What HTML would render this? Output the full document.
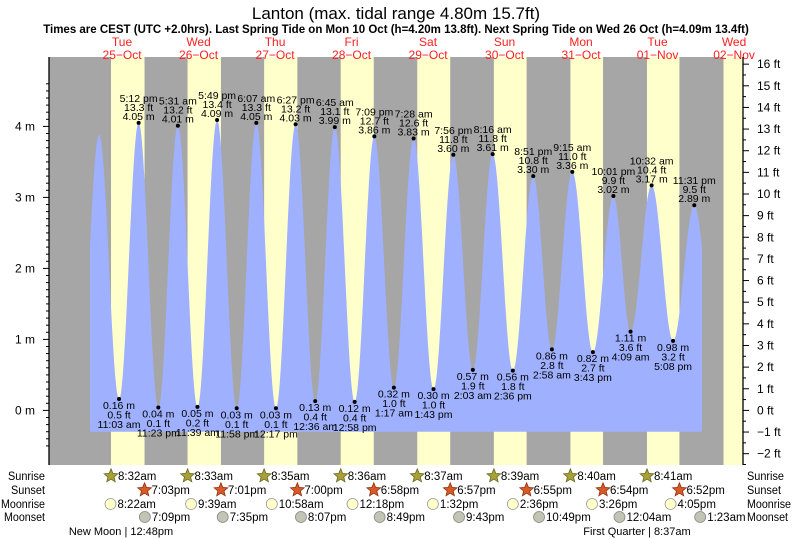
<!DOCTYPE html>
<html><head><meta charset="utf-8"><style>
html,body{margin:0;padding:0;background:#fff;}
svg{display:block;font-family:"Liberation Sans",sans-serif;}
</style></head><body>
<svg id="chart" width="793" height="539" viewBox="0 0 793 539">
<text x="396" y="19" text-anchor="middle" font-size="17">Lanton (max. tidal range 4.80m 15.7ft)</text>
<text x="396" y="33" text-anchor="middle" font-size="11.5" font-weight="bold">Times are CEST (UTC +2.0hrs). Last Spring Tide on Mon 10 Oct (h=4.20m 13.8ft). Next Spring Tide on Wed 26 Oct (h=4.09m 13.4ft)</text>
</svg>
<script>
// ---- data ----
const dayNames = ["Tue","Wed","Thu","Fri","Sat","Sun","Mon","Tue","Wed"];
const dayDates = ["25\u2212Oct","26\u2212Oct","27\u2212Oct","28\u2212Oct","29\u2212Oct","30\u2212Oct","31\u2212Oct","01\u2212Nov","02\u2212Nov"];
const sunriseLabels = ["8:32am","8:33am","8:35am","8:36am","8:37am","8:39am","8:40am","8:41am"];
const sunriseHours = [8.53,8.55,8.58,8.60,8.62,8.65,8.67,8.68,8.70];
const sunsetLabels = ["7:03pm","7:01pm","7:00pm","6:58pm","6:57pm","6:55pm","6:54pm","6:52pm"];
const sunsetHours = [19.05,19.02,19.0,18.97,18.95,18.92,18.90,18.87];
const moonriseLabels = ["8:22am","9:39am","10:58am","12:18pm","1:32pm","2:36pm","3:26pm","4:05pm"];
const moonriseHours = [8.37,9.65,10.97,12.30,13.53,14.60,15.43,16.08];
const moonsetLabels = ["7:09pm","7:35pm","8:07pm","8:49pm","9:43pm","10:49pm","12:04am","1:23am"];
// moonset times: hours after midnight of the day the event belongs to (entries may exceed 24)
const moonsetHours = [19.15,19.58,20.12,20.82,21.72,22.82,24.07,25.38];
// tide extremes: hours since 25-Oct 00:00
const tideHours = [-1.5,4.8,11.05,17.2,23.38,29.52,35.65,41.82,47.97,54.12,60.28,66.45,72.6,78.75,84.97,91.15,97.28,103.47,109.72,115.93,122.05,128.27,134.6,141.0,146.85,153.25,159.72,166.15,171.53,178.15,184.87,191.52,197.5];
const tideHeights = [0.25,3.88,0.16,4.05,0.04,4.01,0.05,4.09,0.03,4.05,0.03,4.03,0.13,3.99,0.12,3.86,0.32,3.83,0.30,3.60,0.57,3.61,0.56,3.30,0.86,3.36,0.82,3.02,1.11,3.17,0.98,2.89,1.2];
const tideLabels = ["","","11:03 am","5:12 pm","11:23 pm","5:31 am","11:39 am","5:49 pm","11:58 pm","6:07 am","12:17 pm","6:27 pm","12:36 am","6:45 am","12:58 pm","7:09 pm","1:17 am","7:28 am","1:43 pm","7:56 pm","2:03 am","8:16 am","2:36 pm","8:51 pm","2:58 am","9:15 am","3:43 pm","10:01 pm","4:09 am","10:32 am","5:08 pm","11:31 pm",""];
const meterTicks = [0,1,2,3,4];
const feetTicks = [-2,-1,0,1,2,3,4,5,6,7,8,9,10,11,12,13,14,15,16];

// ---- scales ----
const X0 = 83.8, PXH = 76.5/24;
const xs = h => X0 + h*PXH;
const ym = m => 410.4 - 71*m;
const PL = 49, PR = 743, PT = 57, PB = 465;
const svg = document.getElementById('chart');
const NS = "http://www.w3.org/2000/svg";
function mk(tag, attrs, parent){ const e=document.createElementNS(NS,tag); for(const k in attrs) e.setAttribute(k,attrs[k]); (parent||svg).appendChild(e); return e; }

let bg = mk('rect',{x:PL,y:PT,width:PR-PL,height:PB-PT,fill:'#a6a6a6'});


for(let d=0; d<sunriseHours.length; d++){
  const x1 = xs(d*24+sunriseHours[d]);
  const x2 = d<sunsetHours.length ? Math.min(PR, xs(d*24+sunsetHours[d])) : PR;
  const r = mk('rect',{x:x1,y:PT,width:x2-x1,height:PB-PT,fill:'#ffffcc'});
  
  
}
for(let d=0; d<dayNames.length; d++){
  const cx = xs(d*24+12);
  const t1 = mk('text',{x:cx,y:46,'text-anchor':'middle','font-size':12,fill:'#ff2020'}); t1.textContent=dayNames[d];
  
  
  const t2 = mk('text',{x:cx,y:59,'text-anchor':'middle','font-size':12,fill:'#ff2020'}); t2.textContent=dayDates[d];
  
  
}
const hStart = (90-X0)/PXH, hEnd = (702-X0)/PXH;
function tideAt(h){
  for(let i=0;i<tideHours.length-1;i++){
    if(h>=tideHours[i] && h<=tideHours[i+1]){
      const f=(h-tideHours[i])/(tideHours[i+1]-tideHours[i]);
      return tideHeights[i]+(tideHeights[i+1]-tideHeights[i])*(1-Math.cos(Math.PI*f))/2;
    }
  }
  return tideHeights[tideHeights.length-1];
}
let dpath = `M${xs(hStart)},${ym(-0.3)}`;
for(let h=hStart; h<=hEnd; h+=0.1){ dpath += ` L${xs(h).toFixed(2)},${ym(tideAt(h)).toFixed(2)}`; }
dpath += ` L${xs(hEnd)},${ym(tideAt(hEnd))} L${xs(hEnd)},${ym(-0.3)} Z`;
const tp = mk('path',{d:dpath,fill:'#9fb0ff'});


for(let i=0;i<tideHours.length;i++){
  if(!tideLabels[i]) continue;
  const x=xs(tideHours[i]), y=ym(tideHeights[i]);
  const high = i>0 && tideHeights[i]>tideHeights[i-1];
  const dot = mk('circle',{cx:x,cy:y,r:2,fill:'#000'});
  
  
  const mTxt = tideHeights[i].toFixed(2)+" m", fTxt=(tideHeights[i]*3.28084).toFixed(1)+" ft";
  const lines = high ? [[tideLabels[i],-21],[fTxt,-12],[mTxt,-3]] : [[mTxt,10],[fTxt,19.5],[tideLabels[i],29]];
  const g = mk('text',{'font-size':10.5,'text-anchor':'middle',fill:'#000'});
  
  
  lines.forEach(l=>{ const ts=mk('tspan',{x:x,y:y+l[1]},g); ts.textContent=l[0]; });
}
mk('line',{x1:PL,y1:PT,x2:PL,y2:PB,stroke:'#000','stroke-width':1.3});
for(let m=-0.5; m<=4.6; m+=0.1){
  const y=ym(m); if(y<PT||y>PB) continue;
  const major = Math.abs(m-Math.round(m))<0.01;
  mk('line',{x1:PL-(major?6:3),y1:y,x2:PL,y2:y,stroke:'#000','stroke-width':1});
}
meterTicks.forEach(m=>{ const t=mk('text',{x:35,y:ym(m)+4,'text-anchor':'end','font-size':12}); t.textContent=m+" m";
  
   });
mk('line',{x1:PR,y1:PT,x2:PR,y2:PB,stroke:'#000','stroke-width':1.3});
const yf = f => ym(f*0.3048);
for(let f=-2.5; f<=16.5; f+=0.5){
  const y=yf(f); if(y<PT||y>PB) continue;
  const major = Math.abs(f-Math.round(f))<0.01;
  mk('line',{x1:PR,y1:y,x2:PR+(major?6:3),y2:y,stroke:'#000','stroke-width':1});
}
feetTicks.forEach(f=>{ const t=mk('text',{x:757,y:yf(f)+4,'font-size':12}); t.textContent=(f<0?"\u2212"+(-f):f)+" ft";
  
   });
function star(cx,cy,fill,stroke){
  let pts=[]; for(let k=0;k<10;k++){ const r=k%2?3.2:7.2, a=-Math.PI/2+k*Math.PI/5; pts.push((cx+r*Math.cos(a)).toFixed(1)+","+(cy+r*Math.sin(a)).toFixed(1)); }
  return mk('polygon',{points:pts.join(' '),fill:fill,stroke:stroke,'stroke-width':0.8});
}
function rowLabel(txt,y,w){
  const a=mk('text',{x:45,y:y+4,'text-anchor':'end','font-size':11.5,textLength:w,lengthAdjust:'spacingAndGlyphs'}); a.textContent=txt;
  
  
  const b=mk('text',{x:747,y:y+4,'font-size':11.5,textLength:w,lengthAdjust:'spacingAndGlyphs'}); b.textContent=txt;
  
  
}
rowLabel("Sunrise",476,37); rowLabel("Sunset",490,34); rowLabel("Moonrise",504,44); rowLabel("Moonset",517,41);
function eventRow(hours,labels,y,kind){
  labels.forEach((lab,d)=>{
    const x = xs(d*24+hours[d]);
    let ic;
    if(kind==='sunrise') ic=star(x,y,'#a8a038','#6a6a20');
    else if(kind==='sunset') ic=star(x,y,'#d85a28','#903010');
    else if(kind==='moonrise') ic=mk('circle',{cx:x,cy:y,r:5.5,fill:'#ffffcc',stroke:'#999','stroke-width':0.8});
    else ic=mk('circle',{cx:x,cy:y,r:5.5,fill:'#c4c4b4',stroke:'#888','stroke-width':0.8});
    
    
    const t=mk('text',{x:x+7,y:y+4,'font-size':11.5}); t.textContent=lab;
    
    
  });
}
eventRow(sunriseHours,sunriseLabels,476,'sunrise');
eventRow(sunsetHours,sunsetLabels,490,'sunset');
eventRow(moonriseHours,moonriseLabels,504,'moonrise');
eventRow(moonsetHours,moonsetLabels,517,'moonset');
const p1=mk('text',{x:121,y:535,'text-anchor':'middle','font-size':11}); p1.textContent="New Moon | 12:48pm";


const p2=mk('text',{x:637,y:535,'text-anchor':'middle','font-size':11}); p2.textContent="First Quarter | 8:37am";


</script>
</body></html>
